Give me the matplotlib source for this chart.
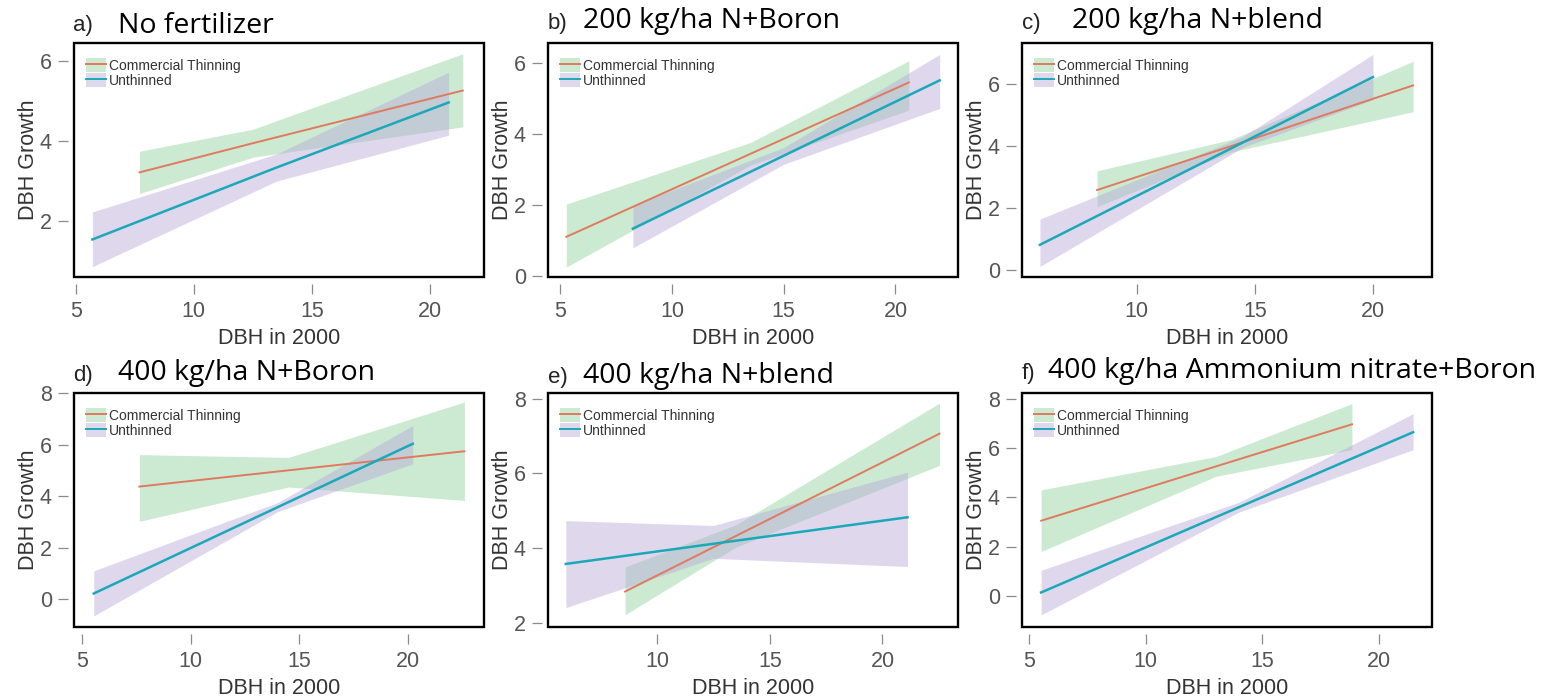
import matplotlib
matplotlib.use("Agg")
import matplotlib.pyplot as plt
from matplotlib.patches import Patch, Rectangle
from matplotlib.lines import Line2D

# ---------------- data ----------------
panel_letters = ["a)", "b)", "c)", "d)", "e)", "f)"]
panel_titles = ["No fertilizer", "200 kg/ha N+Boron", "200 kg/ha N+blend",
                "400 kg/ha N+Boron", "400 kg/ha N+blend",
                "400 kg/ha Ammonium nitrate+Boron"]
series_labels = ["Commercial Thinning", "Unthinned"]
x_label = "DBH in 2000"
y_label = "DBH Growth"

# Commercial Thinning: x positions, fitted line, lower / upper confidence band
ct_x = [[7.7, 12.5, 21.4], [5.27, 13.5, 20.6], [8.32, 14.0, 21.7],
        [7.63, 14.5, 22.6], [8.58, 13.5, 22.53], [5.52, 13.0, 18.84]]
ct_fit = [[3.22, 3.95, 5.27], [1.11, 3.44, 5.45], [2.57, 3.99, 5.95],
          [4.37, 5.0, 5.74], [2.83, 4.32, 7.06], [3.05, 5.25, 6.96]]
ct_lo = [[2.69, 3.6, 4.36], [0.26, 3.12, 4.67], [2.03, 3.8, 5.10],
         [3.02, 4.35, 3.83], [2.21, 4.02, 6.21], [1.80, 4.85, 5.93]]
ct_hi = [[3.75, 4.3, 6.19], [2.03, 3.76, 6.06], [3.19, 4.2, 6.73],
         [5.61, 5.5, 7.65], [3.49, 4.62, 7.88], [4.30, 5.65, 7.80]]

# Unthinned
ut_x = [[5.7, 13.5, 20.8], [8.25, 15.0, 21.98], [5.9, 14.5, 20.0],
        [5.53, 14.0, 20.22], [5.95, 12.5, 21.11], [5.52, 14.0, 21.46]]
ut_fit = [[1.54, 3.34, 4.97], [1.34, 3.39, 5.51], [0.80, 4.11, 6.22],
          [0.22, 3.57, 6.03], [3.57, 4.11, 4.82], [0.14, 3.60, 6.64]]
ut_lo = [[0.86, 3.0, 4.15], [0.80, 3.15, 4.72], [0.10, 3.95, 5.49],
         [-0.65, 3.4, 5.25], [2.40, 3.72, 3.50], [-0.77, 3.4, 5.93]]
ut_hi = [[2.23, 3.68, 5.73], [2.0, 3.62, 6.24], [1.63, 4.3, 6.95],
         [1.10, 3.75, 6.74], [4.73, 4.60, 6.03], [1.04, 3.8, 7.39]]

x_ticks = [[5, 10, 15, 20], [5, 10, 15, 20], [10, 15, 20],
           [5, 10, 15, 20], [10, 15, 20], [5, 10, 15, 20]]
y_ticks = [[2, 4, 6], [0, 2, 4, 6], [0, 2, 4, 6],
           [0, 2, 4, 6, 8], [2, 4, 6, 8], [0, 2, 4, 6, 8]]

# ---------------- layout / style ----------------
x_lims = [(4.92, 22.3), (4.45, 22.8), (5.14, 22.5),
          (4.62, 23.5), (5.16, 23.35), (4.7, 22.27)]
y_lims = [(0.6, 6.46), (-0.02, 6.56), (-0.24, 7.32),
          (-1.08, 8.0), (1.88, 8.15), (-1.26, 8.23)]

W, H = 1560, 700
col_left = [74, 548, 1022]
row_top = [43, 393]
aw, ah = 410, 234
letter_pos = [(73, 31), (548, 29), (1022, 29), (73, 381), (548, 383), (1022, 379)]
title_pos = [(118, 33), (583, 28), (1072, 28), (118, 380), (583, 383), (1048, 378)]

green = "#8fd19a"
purple = "#b8a9d9"
ct_color = "#e07a5f"
ut_color = "#1ba8b8"
band_alpha = 0.45

plt.rcParams["font.family"] = ["Liberation Sans", "DejaVu Sans"]

fig = plt.figure(figsize=(W / 100, H / 100), dpi=100)

for i in range(6):
    r, c = divmod(i, 3)
    L, T = col_left[c], row_top[r]
    ax = fig.add_axes([L / W, 1 - (T + ah) / H, aw / W, ah / H])

    ax.fill_between(ct_x[i], ct_lo[i], ct_hi[i], color=green, alpha=band_alpha, lw=0)
    ax.fill_between(ut_x[i], ut_lo[i], ut_hi[i], color=purple, alpha=band_alpha, lw=0)
    ax.plot(ct_x[i], ct_fit[i], color=ct_color, lw=1.4)
    ax.plot(ut_x[i], ut_fit[i], color=ut_color, lw=1.8)

    ax.set_xlim(*x_lims[i])
    ax.set_ylim(*y_lims[i])
    ax.set_xticks(x_ticks[i])
    ax.set_yticks(y_ticks[i])

    for s in ax.spines.values():
        s.set_visible(False)
    ax.spines["left"].set_position(("outward", 4))
    ax.spines["bottom"].set_position(("outward", 5))
    ax.add_patch(Rectangle((0, 0), 1, 1, transform=ax.transAxes, fill=False,
                           ec="black", lw=1.7, clip_on=False, zorder=5))
    ax.tick_params(direction="out", length=7, width=0.9, color="#8a8a8a",
                   labelsize=15.5, labelcolor="#555555", pad=5)

    ax.text(-46 / aw, 0.5, y_label, rotation=90, ha="center", va="center",
            transform=ax.transAxes, fontsize=15.5, color="#333333")
    ax.text(0.5, -61 / ah, x_label, ha="center", va="center",
            transform=ax.transAxes, fontsize=15.5, color="#333333")

    handles = [(Patch(facecolor=green, alpha=band_alpha, lw=0),
                Line2D([], [], color=ct_color, lw=1.4)),
               (Patch(facecolor=purple, alpha=band_alpha, lw=0),
                Line2D([], [], color=ut_color, lw=1.4))]
    leg = ax.legend(handles, series_labels, loc="upper left",
                    bbox_to_anchor=(12 / aw, 1 - 15 / ah), frameon=False,
                    borderpad=0, borderaxespad=0, handlelength=1.45,
                    handleheight=1.2, handletextpad=0.2, labelspacing=0.0,
                    prop={"family": ["Liberation Sans", "DejaVu Sans"], "size": 10})
    for t in leg.get_texts():
        t.set_color("#333333")

    lx, ly = letter_pos[i]
    fig.text(lx / W, 1 - ly / H, panel_letters[i], ha="left", va="baseline",
             fontsize=16, family=["Liberation Sans", "DejaVu Sans"], color="#222222")
    tx, ty = title_pos[i]
    fig.text(tx / W, 1 - ty / H, panel_titles[i], ha="left", va="baseline",
             fontsize=20.5, family=["Open Sans", "DejaVu Sans"], color="black")

fig.savefig("out.png", dpi=100)
